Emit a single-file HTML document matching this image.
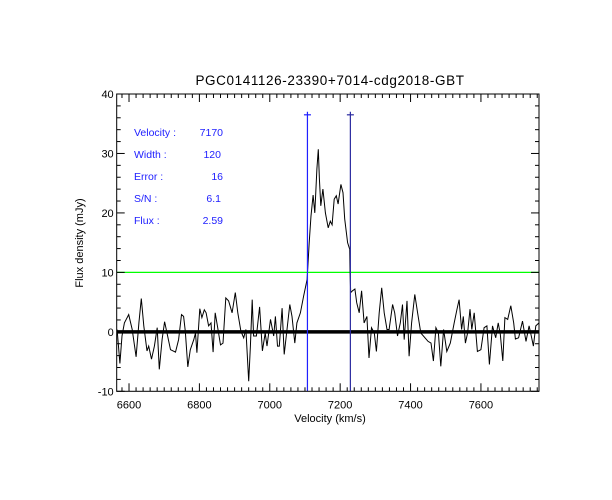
<!DOCTYPE html>
<html><head><meta charset="utf-8"><style>
body{margin:0;background:#fff;}
svg{display:block;font-family:"Liberation Sans",sans-serif;}
</style></head><body>
<svg id="chart" width="612" height="500" viewBox="0 0 612 500">
<rect width="612" height="500" fill="#fff"/>
<text x="330" y="85" font-size="13.5" letter-spacing="0.6" text-anchor="middle">PGC0141126-23390+7014-cdg2018-GBT</text>
<text x="330" y="422" font-size="11" text-anchor="middle">Velocity (km/s)</text>
<text transform="translate(83,243) rotate(-90)" font-size="11" text-anchor="middle">Flux density (mJy)</text>
<g id="marks"></g>
<g id="axes"></g>
<g fill="#2020ff" font-size="10.5">
<text x="134" y="136">Velocity :</text><text x="223" y="136" text-anchor="end">7170</text>
<text x="134" y="158">Width :</text><text x="221" y="158" text-anchor="end">120</text>
<text x="134" y="180">Error :</text><text x="223" y="180" text-anchor="end">16</text>
<text x="134" y="202">S/N :</text><text x="221" y="202" text-anchor="end">6.1</text>
<text x="134" y="224">Flux :</text><text x="223" y="224" text-anchor="end">2.59</text>
</g>
</svg>
<script>
const velocities=[6566,6574,6580,6587,6599,6609,6620,6628,6635,6642,6651,6656,6664,6672,6680,6686,6694,6701,6708,6718,6732,6741,6749,6755,6760,6767,6774,6784,6789,6793,6801,6807,6814,6819,6826,6833,6839,6845,6852,6860,6867,6875,6883,6893,6902,6909,6918,6926,6932,6940,6945,6950,6954,6962,6971,6979,6987,6992,7002,7011,7016,7022,7027,7035,7041,7049,7057,7063,7071,7077,7087,7096,7106,7112,7117,7123,7128,7134,7138,7141,7145,7151,7158,7166,7172,7177,7183,7189,7194,7202,7208,7213,7221,7227,7228,7230,7235,7242,7247,7254,7261,7268,7276,7282,7289,7297,7303,7311,7318,7325,7333,7339,7349,7355,7363,7371,7377,7382,7390,7396,7403,7412,7420,7429,7450,7458,7465,7472,7479,7486,7494,7503,7513,7524,7532,7538,7545,7550,7556,7562,7569,7574,7581,7590,7600,7609,7617,7624,7633,7642,7649,7655,7662,7668,7676,7685,7693,7698,7707,7718,7728,7737,7742,7749,7756,7765];
const fluxes=[0.4,-5.3,-0.7,1.5,2.9,0.4,-4.2,1.5,5.6,1.0,-3.2,-2.4,-4.6,-2.4,0.7,-6.3,-1.3,1.7,-0.2,-3.0,-3.4,-1.3,2.9,2.6,0.1,-5.9,-3.0,-1.3,-0.2,-3.5,3.9,2.4,3.7,3.2,1.0,1.5,-3.4,3.2,0.7,-2.2,-1.9,5.7,5.2,3.2,6.6,3.2,0.1,-1.0,0.4,-8.3,-2.4,5.4,-0.7,-0.7,4.2,-3.2,-0.2,-2.4,2.1,-0.7,2.6,-2.4,-2.4,4.0,-3.8,0.4,4.6,2.6,-1.9,1.5,3.2,6.0,8.8,15,19.5,23,20,27.4,30.7,25.7,21.2,24,20,17.5,18.6,18,22.3,22.9,21.5,24.8,23.4,19,15,13.9,10.2,6.6,6.9,7.2,4.9,3.2,6.9,1.5,2.6,-4.4,0.7,-0.2,-3.3,3.2,7.4,3.2,0.4,0.4,4.6,3.2,-0.7,1.5,4.6,-1.3,5.2,-4.1,1.5,6.3,3.2,-0.2,-1.6,-1.9,-4.9,0.7,-0.2,-5.8,0.4,-3.3,-1.9,1.5,3.8,5.4,0.4,2.6,-1.9,-0.2,3.8,0.4,3.2,-3.3,-3.0,0.7,1.0,-5.5,1.0,-1.0,1.5,-0.4,-4.9,2.4,2.1,4.4,1.5,-1.2,-1.0,1.8,-1.6,1.0,-0.4,-2.4,1.0,1.5];
const xTicks=[6600,6800,7000,7200,7400,7600];
const yTicks=[-10,0,10,20,30,40];
const windowEdges=[7107,7229];
const threshold=[10];
const xMin=6565,xMax=7765,yMin=-10,yMax=40;
const L=116.7,R=539,T=94,B=391.3;
const sx=v=>L+(v-xMin)/(xMax-xMin)*(R-L);
const sy=f=>B-(f-yMin)/(yMax-yMin)*(B-T);
const NS='http://www.w3.org/2000/svg';
function mk(tag,attrs,parent){const e=document.createElementNS(NS,tag);for(const k in attrs)e.setAttribute(k,attrs[k]);parent.appendChild(e);return e;}
const marks=document.getElementById('marks'),axes=document.getElementById('axes');
threshold.forEach(t=>{const l=mk('line',{x1:L,x2:R,y1:sy(t),y2:sy(t),stroke:'#00ff00','stroke-width':1.2},marks);

});
let d='';velocities.forEach((v,i)=>{d+=(i?'L':'M')+sx(v).toFixed(1)+','+sy(fluxes[i]).toFixed(1);});
const sp=mk('path',{d:d,fill:'none',stroke:'#000','stroke-width':1},marks);


const bl=mk('line',{x1:L,x2:R,y1:sy(0),y2:sy(0),stroke:'#000','stroke-width':3.5},marks);


windowEdges.forEach((w,i)=>{const c=i?'#2a2aa0':'#2020ff';
const l=mk('line',{x1:sx(w),x2:sx(w),y1:B,y2:sy(36.5)-3,stroke:c,'stroke-width':1.2},marks);


const h=mk('line',{x1:sx(w)-3.5,x2:sx(w)+3.5,y1:sy(36.5),y2:sy(36.5),stroke:c,'stroke-width':1.2},marks);

});
const fr=mk('rect',{x:L,y:T,width:R-L,height:B-T,fill:'none',stroke:'#000','stroke-width':1},axes);


for(let v=6580;v<=xMax;v+=20){const major=v%200===0;const len=major?8:4;
mk('line',{x1:sx(v),x2:sx(v),y1:B,y2:B-len,stroke:'#000'},axes);
mk('line',{x1:sx(v),x2:sx(v),y1:T,y2:T+len,stroke:'#000'},axes);}
xTicks.forEach(v=>{const t=mk('text',{x:sx(v),y:B+17,'font-size':11,'text-anchor':'middle'},axes);t.textContent=v;

});
for(let f=yMin;f<=yMax;f+=2){const major=f%10===0;const len=major?8:4;
mk('line',{x1:L,x2:L+len,y1:sy(f),y2:sy(f),stroke:'#000'},axes);
mk('line',{x1:R,x2:R-len,y1:sy(f),y2:sy(f),stroke:'#000'},axes);}
yTicks.forEach(f=>{const t=mk('text',{x:L-3,y:sy(f)+4,'font-size':11,'text-anchor':'end'},axes);t.textContent=f;

});
</script>
</body></html>
